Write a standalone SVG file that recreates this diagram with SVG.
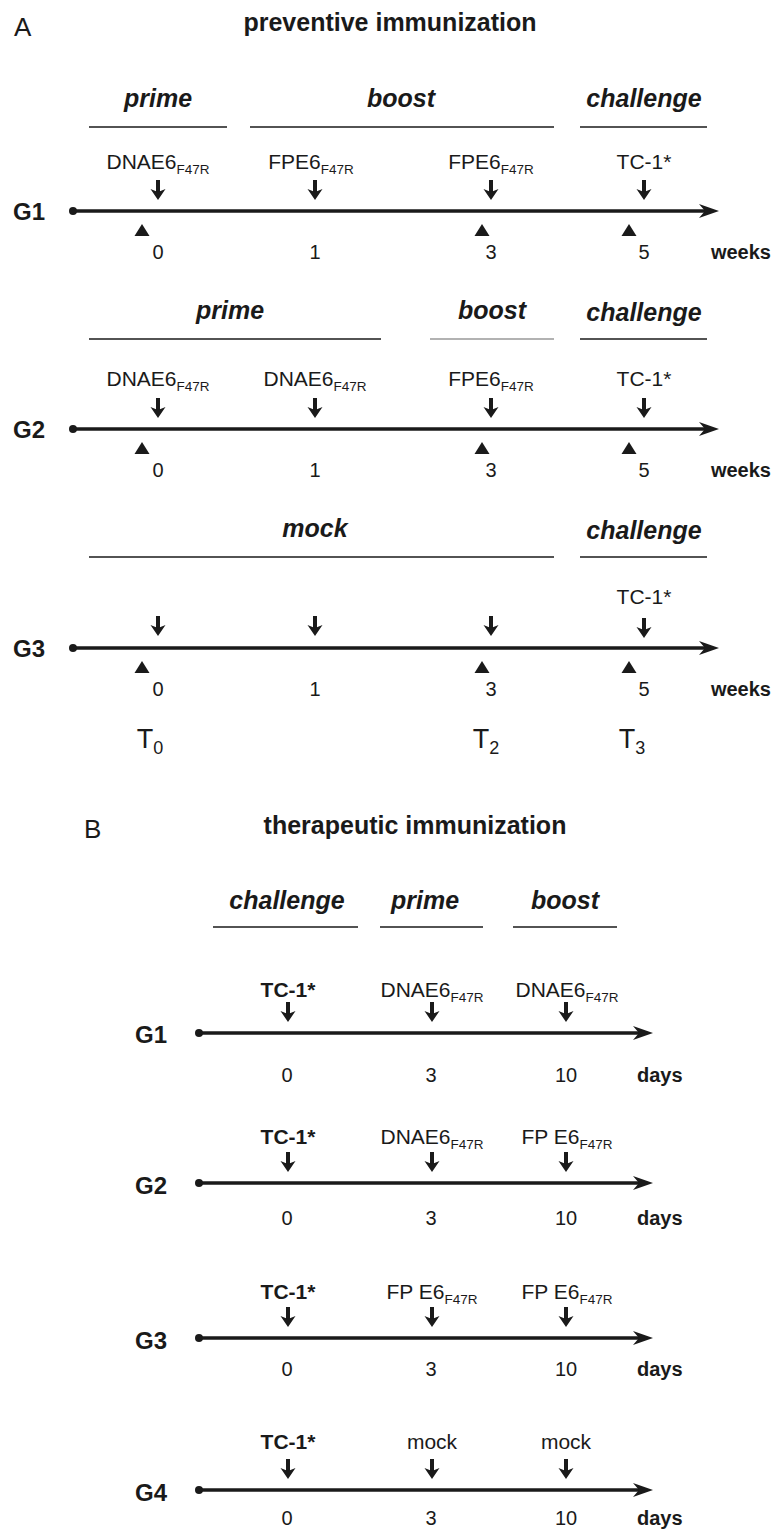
<svg xmlns="http://www.w3.org/2000/svg" xmlns:xlink="http://www.w3.org/1999/xlink" width="773" height="1530" viewBox="0 0 773 1530">
<style>
text{font-family:"Liberation Sans",Arial,sans-serif;fill:#1a1a1a}
.ttl{font-size:25px;font-weight:bold;text-anchor:middle}
.pan{font-size:26px}
.hdr{font-size:25px;font-weight:bold;font-style:italic;text-anchor:middle}
.lbl{font-size:21px;text-anchor:middle}
.lblb{font-size:21px;font-weight:bold;text-anchor:middle}
.sub{font-size:13.5px}
.num{font-size:20px;text-anchor:middle}
.unit{font-size:20px;font-weight:bold}
.grp{font-size:24px;font-weight:bold}
.tl{font-size:27px;text-anchor:middle}
.hl{stroke:#1a1a1a;stroke-width:1.3;fill:none}
.axis{stroke:#1a1a1a;stroke-width:3.3;fill:none}
.ink{fill:#1a1a1a}
</style>
<defs>
<g id="dn"><rect x="-2" y="-20" width="4" height="12" class="ink"/><path d="M-7.5,-11 L0,0 L7.5,-11 L0,-8 Z" class="ink"/></g>
<path id="tri" d="M-7.5,12 L0,0 L7.5,12 Z" class="ink"/>
</defs>

<g id="panelA">
<text class="pan" x="14" y="36">A</text>
<text class="ttl" x="390" y="31">preventive immunization</text>
</g>

<g id="A-G1">
<text class="hdr" x="158" y="107">prime</text>
<text class="hdr" x="401" y="107">boost</text>
<text class="hdr" x="644" y="107">challenge</text>
<line class="hl" x1="89" y1="127" x2="227" y2="127"/>
<line class="hl" x1="250" y1="127" x2="554" y2="127"/>
<line class="hl" x1="580" y1="127" x2="707" y2="127"/>
<text class="lbl" x="158" y="169">DNAE6<tspan class="sub" dy="5">F47R</tspan></text>
<text class="lbl" x="311" y="169">FPE6<tspan class="sub" dy="5">F47R</tspan></text>
<text class="lbl" x="491" y="169">FPE6<tspan class="sub" dy="5">F47R</tspan></text>
<text class="lbl" x="644" y="169">TC-1*</text>
<text class="grp" x="13" y="220">G1</text>
<text class="num" x="158" y="259">0</text>
<text class="num" x="315" y="259">1</text>
<text class="num" x="491" y="259">3</text>
<text class="num" x="644" y="259">5</text>
<text class="unit" x="771" y="259" text-anchor="end">weeks</text>
</g>

<g id="A-G2">
<text class="hdr" x="230" y="319">prime</text>
<text class="hdr" x="492" y="319">boost</text>
<text class="hdr" x="644" y="321">challenge</text>
<line class="hl" x1="89" y1="339" x2="381" y2="339"/>
<line x1="430" y1="339" x2="554" y2="339" stroke="#999" stroke-width="1.3"/>
<line class="hl" x1="580" y1="339" x2="707" y2="339"/>
<text class="lbl" x="158" y="386">DNAE6<tspan class="sub" dy="5">F47R</tspan></text>
<text class="lbl" x="315" y="386">DNAE6<tspan class="sub" dy="5">F47R</tspan></text>
<text class="lbl" x="491" y="386">FPE6<tspan class="sub" dy="5">F47R</tspan></text>
<text class="lbl" x="644" y="386">TC-1*</text>
<text class="grp" x="13" y="438">G2</text>
<text class="num" x="158" y="477">0</text>
<text class="num" x="315" y="477">1</text>
<text class="num" x="491" y="477">3</text>
<text class="num" x="644" y="477">5</text>
<text class="unit" x="771" y="477" text-anchor="end">weeks</text>
</g>

<g id="A-G3">
<text class="hdr" x="315" y="537">mock</text>
<text class="hdr" x="644" y="539">challenge</text>
<line class="hl" x1="89" y1="557" x2="554" y2="557"/>
<line class="hl" x1="580" y1="557" x2="707" y2="557"/>
<text class="lbl" x="644" y="604">TC-1*</text>
<text class="grp" x="13" y="657">G3</text>
<text class="num" x="158" y="696">0</text>
<text class="num" x="315" y="696">1</text>
<text class="num" x="491" y="696">3</text>
<text class="num" x="644" y="696">5</text>
<text class="unit" x="771" y="696" text-anchor="end">weeks</text>
<text class="tl" x="150" y="748">T<tspan font-size="18" dy="6">0</tspan></text>
<text class="tl" x="486" y="748">T<tspan font-size="18" dy="6">2</tspan></text>
<text class="tl" x="632" y="748">T<tspan font-size="18" dy="6">3</tspan></text>
</g>

<g id="panelB">
<text class="pan" x="84" y="838">B</text>
<text class="ttl" x="415" y="834">therapeutic immunization</text>
<text class="hdr" x="287" y="909">challenge</text>
<text class="hdr" x="425" y="909">prime</text>
<text class="hdr" x="565" y="909">boost</text>
<line class="hl" x1="213" y1="927" x2="358" y2="927"/>
<line class="hl" x1="380" y1="927" x2="483" y2="927"/>
<line class="hl" x1="513" y1="927" x2="617" y2="927"/>
</g>

<g id="B-G1">
<text class="lblb" x="288" y="997">TC-1*</text>
<text class="lbl" x="432" y="997">DNAE6<tspan class="sub" dy="5">F47R</tspan></text>
<text class="lbl" x="567" y="997">DNAE6<tspan class="sub" dy="5">F47R</tspan></text>
<text class="grp" x="135" y="1043">G1</text>
<text class="num" x="287" y="1082">0</text>
<text class="num" x="431" y="1082">3</text>
<text class="num" x="566" y="1082">10</text>
<text class="unit" x="637" y="1082">days</text>
</g>

<g id="B-G2">
<text class="lblb" x="288" y="1144">TC-1*</text>
<text class="lbl" x="432" y="1144">DNAE6<tspan class="sub" dy="5">F47R</tspan></text>
<text class="lbl" x="567" y="1144">FP E6<tspan class="sub" dy="5">F47R</tspan></text>
<text class="grp" x="135" y="1194">G2</text>
<text class="num" x="287" y="1225">0</text>
<text class="num" x="431" y="1225">3</text>
<text class="num" x="566" y="1225">10</text>
<text class="unit" x="637" y="1225">days</text>
</g>

<g id="B-G3">
<text class="lblb" x="288" y="1299">TC-1*</text>
<text class="lbl" x="432" y="1299">FP E6<tspan class="sub" dy="5">F47R</tspan></text>
<text class="lbl" x="567" y="1299">FP E6<tspan class="sub" dy="5">F47R</tspan></text>
<text class="grp" x="135" y="1349">G3</text>
<text class="num" x="287" y="1376">0</text>
<text class="num" x="431" y="1376">3</text>
<text class="num" x="566" y="1376">10</text>
<text class="unit" x="637" y="1376">days</text>
</g>

<g id="B-G4">
<text class="lblb" x="288" y="1449">TC-1*</text>
<text class="lbl" x="432" y="1449">mock</text>
<text class="lbl" x="566" y="1449">mock</text>
<text class="grp" x="135" y="1501">G4</text>
<text class="num" x="287" y="1525">0</text>
<text class="num" x="431" y="1525">3</text>
<text class="num" x="566" y="1525">10</text>
<text class="unit" x="637" y="1525">days</text>
</g>

<g id="connectors">
<circle cx="73" cy="211" r="4" class="ink"/>
<line class="axis" x1="73" y1="211" x2="705" y2="211"/>
<path class="ink" d="M719,211 L699,204 L705,211 L699,218 Z"/>
<circle cx="73" cy="429" r="4" class="ink"/>
<line class="axis" x1="73" y1="429" x2="705" y2="429"/>
<path class="ink" d="M719,429 L699,422 L705,429 L699,436 Z"/>
<circle cx="73" cy="648" r="4" class="ink"/>
<line class="axis" x1="73" y1="648" x2="705" y2="648"/>
<path class="ink" d="M719,648 L699,641 L705,648 L699,655 Z"/>
<use xlink:href="#dn" x="158" y="200"/><use xlink:href="#dn" x="315" y="200"/><use xlink:href="#dn" x="491" y="200"/><use xlink:href="#dn" x="644" y="200"/>
<use xlink:href="#dn" x="158" y="418"/><use xlink:href="#dn" x="315" y="418"/><use xlink:href="#dn" x="491" y="418"/><use xlink:href="#dn" x="644" y="418"/>
<use xlink:href="#dn" x="158" y="636"/><use xlink:href="#dn" x="315" y="636"/><use xlink:href="#dn" x="491" y="636"/><use xlink:href="#dn" x="644" y="638"/>
<use xlink:href="#tri" x="142" y="224"/><use xlink:href="#tri" x="482" y="224"/><use xlink:href="#tri" x="629" y="224"/>
<use xlink:href="#tri" x="142" y="442"/><use xlink:href="#tri" x="482" y="442"/><use xlink:href="#tri" x="629" y="442"/>
<use xlink:href="#tri" x="142" y="661"/><use xlink:href="#tri" x="482" y="661"/><use xlink:href="#tri" x="629" y="661"/>
<circle cx="199" cy="1033" r="4" class="ink"/>
<line class="axis" x1="199" y1="1033" x2="639" y2="1033"/>
<path class="ink" d="M653,1033 L633,1026 L639,1033 L633,1040 Z"/>
<circle cx="199" cy="1183" r="4" class="ink"/>
<line class="axis" x1="199" y1="1183" x2="639" y2="1183"/>
<path class="ink" d="M653,1183 L633,1176 L639,1183 L633,1190 Z"/>
<circle cx="199" cy="1338" r="4" class="ink"/>
<line class="axis" x1="199" y1="1338" x2="639" y2="1338"/>
<path class="ink" d="M653,1338 L633,1331 L639,1338 L633,1345 Z"/>
<circle cx="199" cy="1490" r="4" class="ink"/>
<line class="axis" x1="199" y1="1490" x2="639" y2="1490"/>
<path class="ink" d="M653,1490 L633,1483 L639,1490 L633,1497 Z"/>
<use xlink:href="#dn" x="288" y="1022"/><use xlink:href="#dn" x="432" y="1022"/><use xlink:href="#dn" x="566" y="1022"/>
<use xlink:href="#dn" x="288" y="1172"/><use xlink:href="#dn" x="432" y="1172"/><use xlink:href="#dn" x="566" y="1172"/>
<use xlink:href="#dn" x="288" y="1327"/><use xlink:href="#dn" x="432" y="1327"/><use xlink:href="#dn" x="566" y="1327"/>
<use xlink:href="#dn" x="288" y="1479"/><use xlink:href="#dn" x="432" y="1479"/><use xlink:href="#dn" x="566" y="1479"/>
</g>
</svg>
